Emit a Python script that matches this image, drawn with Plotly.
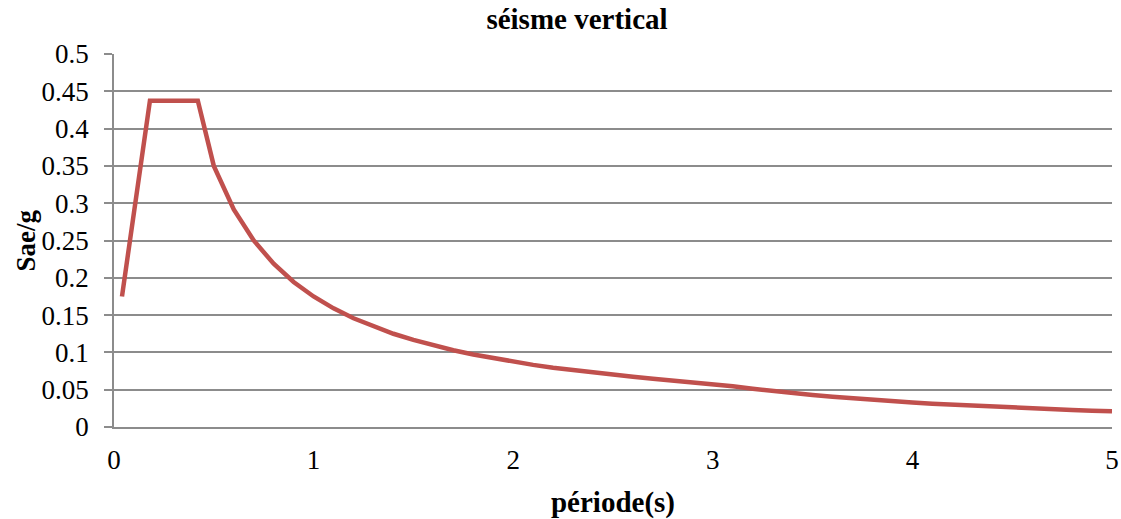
import plotly.graph_objects as go

# Data
periode = [0.04, 0.18, 0.42, 0.5, 0.6, 0.7, 0.8, 0.9, 1.0, 1.1, 1.2, 1.3, 1.4, 1.5,
           1.6, 1.7, 1.8, 1.9, 2.0, 2.1, 2.2, 2.3, 2.4, 2.5, 2.6, 2.7, 2.8, 2.9,
           3.0, 3.1, 3.2, 3.3, 3.4, 3.5, 3.6, 3.7, 3.8, 3.9, 4.0, 4.1, 4.2, 4.3,
           4.4, 4.5, 4.6, 4.7, 4.8, 4.9, 5.0]
sae_g = [0.175, 0.4375, 0.4375, 0.35, 0.2917, 0.25, 0.2188, 0.1944, 0.175, 0.1591,
         0.1458, 0.1346, 0.125, 0.1167, 0.1094, 0.1029, 0.0972, 0.0921, 0.0875,
         0.0833, 0.0795, 0.0761, 0.0729, 0.07, 0.0673, 0.0648, 0.0625, 0.0603,
         0.0583, 0.0546, 0.0513, 0.0482, 0.0454, 0.0429, 0.0405, 0.0383, 0.0364,
         0.0345, 0.0328, 0.0312, 0.0298, 0.0284, 0.0271, 0.0259, 0.0248, 0.0238,
         0.0228, 0.0219, 0.021]

y_tickvals = [0, 0.05, 0.1, 0.15, 0.2, 0.25, 0.3, 0.35, 0.4, 0.45, 0.5]
y_ticktext = ["0", "0.05", "0.1", "0.15", "0.2", "0.25", "0.3", "0.35", "0.4", "0.45", "0.5"]
x_tickvals = [0, 1, 2, 3, 4, 5]
x_ticktext = ["0", "1", "2", "3", "4", "5"]

serif = "Liberation Serif, Times New Roman, serif"
grid = "#8c8c8c"

fig = go.Figure()
fig.add_trace(go.Scatter(
    x=periode, y=sae_g, mode="lines",
    line=dict(color="#C0504D", width=4.5),
    showlegend=False, hoverinfo="x+y",
))

fig.update_layout(
    width=1121, height=519,
    margin=dict(l=114, r=9, t=54, b=92),
    paper_bgcolor="white", plot_bgcolor="white",
    font=dict(family=serif, color="black", size=27),
    title=dict(text="<b>séisme vertical</b>", x=577 / 1121, xanchor="center",
               y=1 - 19 / 519, yanchor="middle",
               font=dict(family=serif, size=29, color="black")),
)

fig.update_xaxes(
    range=[0, 5], tickvals=x_tickvals, ticktext=x_ticktext,
    showgrid=False, zeroline=False,
    showline=True, linecolor=grid, linewidth=1.5,
    ticks="", ticklabelstandoff=8, ticklabeloverflow="allow",
    tickfont=dict(family=serif, size=27, color="black"),
    title=dict(text="<b>période(s)</b>", font=dict(family=serif, size=29, color="black"),
               standoff=22),
    automargin=False,
)
fig.update_yaxes(
    range=[0, 0.5], tickvals=y_tickvals, ticktext=y_ticktext,
    showgrid=True, gridcolor=grid, gridwidth=1.5, zeroline=False,
    showline=True, linecolor=grid, linewidth=1.5,
    ticks="outside", ticklen=8, tickcolor=grid, tickwidth=1.5,
    ticklabelstandoff=10,
    tickfont=dict(family=serif, size=27, color="black"),
    automargin=False,
)

fig.add_annotation(
    text="<b>Sae/g</b>", xref="paper", yref="paper",
    x=(25 - 114) / 998, y=0.5, textangle=-90, showarrow=False,
    xanchor="center", yanchor="middle",
    font=dict(family=serif, size=27, color="black"),
)

fig.write_html("out.html")
